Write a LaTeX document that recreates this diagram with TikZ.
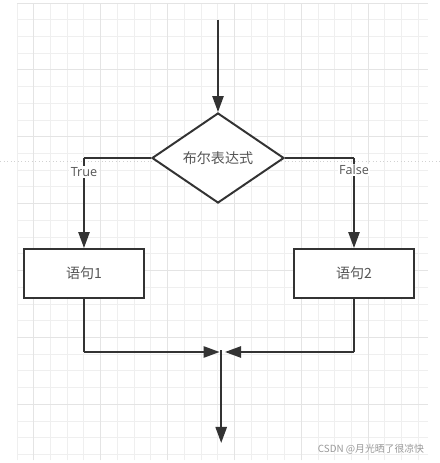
\documentclass[tikz,border=0pt]{standalone}
\usepackage{fontspec}
\setmainfont{Open Sans}
\newfontfamily\cjk{Noto Sans CJK SC}
\usetikzlibrary{shapes.geometric, arrows.meta, positioning}

\definecolor{ink}{HTML}{333333}
\definecolor{txt}{HTML}{555555}
\definecolor{gridminor}{HTML}{EFEFEF}
\definecolor{gridmajor}{HTML}{E4E4E4}

\tikzset{
  flow/.style={draw=ink, line width=1.4pt, -{Triangle[length=0.4cm, width=0.28cm]}},
  link/.style={draw=ink, line width=1.4pt},
  decision/.style={diamond, draw=ink, line width=1.4pt, fill=white, aspect=1.47,
    minimum width=3.3cm, minimum height=2.25cm, inner sep=0pt, text=txt, font=\cjk\normalsize},
  stmt/.style={rectangle, draw=ink, line width=1.4pt, fill=white,
    minimum width=3cm, minimum height=1.225cm, text=txt, font=\cjk\normalsize},
  branch/.style={fill=white, text=txt, font=\small, inner sep=1pt}
}

\begin{document}
\begin{tikzpicture}
  \useasboundingbox (0,0) rectangle (11,11.575);
  \fill[white] (0,0) rectangle (11,11.575);

  % background grid
  \foreach \k in {0,...,24} {
    \pgfmathsetmacro{\gx}{0.425+0.418*\k}
    \draw[gridminor, line width=0.6pt] (\gx,0.075) -- (\gx,11.5);
  }
  \foreach \k in {0,...,27} {
    \pgfmathsetmacro{\gy}{11.5-0.418*\k}
    \draw[gridminor, line width=0.6pt] (0.425,\gy) -- (10.7,\gy);
  }
  \foreach \k in {1,5,...,21} {
    \pgfmathsetmacro{\gx}{0.425+0.418*\k}
    \draw[gridmajor, line width=0.6pt] (\gx,0.075) -- (\gx,11.5);
  }
  \foreach \k in {0,4,...,24} {
    \pgfmathsetmacro{\gy}{11.5-0.418*\k}
    \draw[gridmajor, line width=0.6pt] (0.425,\gy) -- (10.7,\gy);
  }
  \draw[gray!35, dotted, line width=0.5pt] (0,7.55) -- (11,7.55);

  % nodes
  \coordinate (start) at (5.45,11.075);
  \node[decision] (cond) at (5.45,7.625) {布尔表达式};
  \node[stmt] (st1) at (2.1,4.7375) {语句1};
  \node[stmt] (st2) at (8.85,4.7375) {语句2};
  \coordinate (tcorner) at (st1.north |- cond.west);
  \coordinate (fcorner) at (st2.north |- cond.east);
  \coordinate (bl) at (st1.south |- 0,2.775);
  \coordinate (br) at (st2.south |- 0,2.775);
  \coordinate (joinl) at (5.49,2.775);
  \coordinate (joinr) at (5.625,2.775);
  \coordinate (down) at (5.53,2.82);
  \coordinate (out) at (5.53,0.5);

  % connectors
  \draw[flow] (start) -- (cond.north);
  \draw[link] (cond.west) -- (tcorner);
  \draw[flow] (tcorner) -- node[branch, pos=0.155] {True} (st1.north);
  \draw[link] (cond.east) -- (fcorner);
  \draw[flow] (fcorner) -- node[branch, pos=0.135] {False} (st2.north);
  \draw[link] (st1.south) -- (bl);
  \draw[flow] (bl) -- (joinl);
  \draw[link] (st2.south) -- (br);
  \draw[flow] (br) -- (joinr);
  \draw[flow] (down) -- (out);

  \node[text=gray!80, font=\cjk\scriptsize] (mark) at (9.275,0.35) {CSDN @月光晒了很凉快};
\end{tikzpicture}
\end{document}
